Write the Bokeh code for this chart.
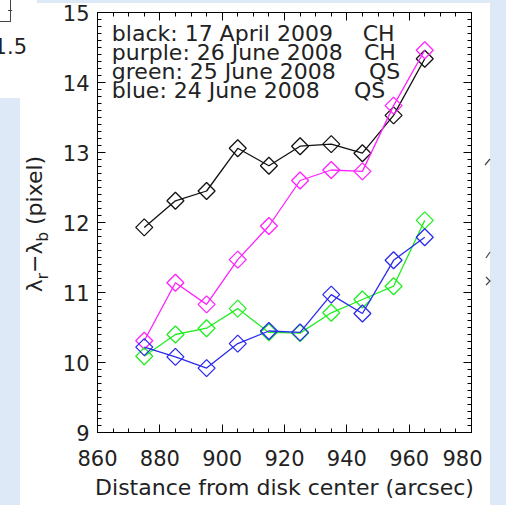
import numpy as np
from bokeh.plotting import figure
from bokeh.models import (Range1d, LinearAxis, SingleIntervalTicker, Label,
                          CustomJSTickFormatter, Div)
from bokeh.layouts import row, column
from bokeh.embed import file_html
from bokeh.resources import INLINE

# ---- data ----
distance = [875, 885, 895, 905, 915, 925, 935, 945, 955, 965]
black_ch_2009 = [11.93, 12.31, 12.45, 13.06, 12.81, 13.09, 13.12, 12.99, 13.53, 14.34]
purple_ch_2008 = [10.31, 11.14, 10.83, 11.47, 11.95, 12.60, 12.75, 12.73, 13.67, 14.46]
green_qs_2008 = [10.09, 10.40, 10.49, 10.77, 10.43, 10.42, 10.71, 10.90, 11.09, 12.03]
blue_qs_2008 = [10.22, 10.08, 9.92, 10.27, 10.45, 10.43, 10.97, 10.70, 11.46, 11.79]

series_colors = ["#111111", "#ff22ff", "#22ee22", "#2a2aee"]
legend_left = ["black: 17 April 2009", "purple: 26 June 2008",
               "green: 25 June 2008", "blue: 24 June 2008"]
legend_right = ["CH", "CH", "QS", "QS"]
x_title = "Distance from disk center (arcsec)"

FONT = "DejaVu Sans"
TXT = "#222222"
BG_BLUE = "#dde9f6"

p = figure(width=426, height=502, output_backend="svg", toolbar_location=None,
           x_range=Range1d(860, 980), y_range=Range1d(9, 15),
           min_border_left=41, min_border_right=11, min_border_top=9,
           min_border_bottom=73)
p.background_fill_color = "white"
p.border_fill_color = "white"
p.outline_line_color = "black"
p.outline_line_width = 1
p.xgrid.visible = False
p.ygrid.visible = False


def style_axis(ax, labels=True):
    ax.axis_line_color = "black"
    ax.major_tick_line_color = "black"
    ax.minor_tick_line_color = "black"
    ax.major_tick_in = 8
    ax.major_tick_out = 0
    ax.minor_tick_in = 4
    ax.minor_tick_out = 0
    if labels:
        ax.major_label_text_font = FONT
        ax.major_label_text_font_size = "21px"
        ax.major_label_text_color = TXT
    else:
        ax.formatter = CustomJSTickFormatter(code="return ''")
        ax.major_label_text_font_size = "1px"
        ax.major_label_standoff = 0


p.xaxis.ticker = SingleIntervalTicker(interval=20, num_minor_ticks=4)
p.yaxis.ticker = SingleIntervalTicker(interval=1, num_minor_ticks=10)
style_axis(p.xaxis[0])
style_axis(p.yaxis[0])
p.xaxis.major_label_standoff = 17
p.yaxis.major_label_standoff = 8
p.xaxis.axis_label = x_title
p.xaxis.axis_label_text_font = FONT
p.xaxis.axis_label_text_font_size = "22px"
p.xaxis.axis_label_text_font_style = "normal"
p.xaxis.axis_label_text_color = TXT
p.xaxis.axis_label_standoff = 6

top_ax = LinearAxis(ticker=SingleIntervalTicker(interval=20, num_minor_ticks=4))
right_ax = LinearAxis(ticker=SingleIntervalTicker(interval=1, num_minor_ticks=10))
style_axis(top_ax, labels=False)
style_axis(right_ax, labels=False)
p.add_layout(top_ax, "above")
p.add_layout(right_ax, "right")

# ---- series ----
for ys, c in zip([black_ch_2009, purple_ch_2008, green_qs_2008, blue_qs_2008], series_colors):
    p.line(distance, ys, line_color=c, line_width=1.3)
    p.scatter(distance, ys, marker="square", size=12, angle=np.pi / 4,
              fill_color=None, line_color=c, line_width=1.3)

# ---- legend text inside the plot ----
leg_y = [14.70, 14.43, 14.157, 13.886]
leg_right_x = [945.1, 945.5, 947.1, 942.3]
for t, y in zip(legend_left, leg_y):
    p.add_layout(Label(x=864.6, y=y, text=t, text_font=FONT, text_font_size="22px",
                       text_color=TXT, text_baseline="alphabetic"))
for t, x, y in zip(legend_right, leg_right_x, leg_y):
    p.add_layout(Label(x=x, y=y, text=t, text_font=FONT, text_font_size="22px",
                       text_color=TXT, text_baseline="alphabetic"))

# ---- left margin: y title (with subscripts) and page decoration ----
left_html = f"""
<div style="position:relative;width:56px;height:505px;overflow:hidden;background:white;
            font-family:'{FONT}';color:{TXT};">
  <div style="position:absolute;left:0;top:98px;width:20px;height:407px;background:{BG_BLUE};"></div>
  <div style="position:absolute;left:37px;top:0;width:19px;height:3px;background:{BG_BLUE};"></div>
  <div style="position:absolute;left:-1px;top:-1px;width:12px;height:23px;
              border-right:1px solid #444;border-bottom:1px solid #444;"></div>
  <div style="position:absolute;left:8px;top:10px;width:4px;height:1px;background:#444;"></div>
  <div style="position:absolute;right:29px;top:37px;font-size:21px;line-height:21px;">1.5</div>
  <div style="position:absolute;left:39px;top:224px;transform:translate(-50%,-50%) rotate(-90deg);
              white-space:nowrap;font-size:22px;line-height:24px;">λ<sub style="font-size:15px">r</sub>−λ<sub style="font-size:15px">b</sub> (pixel)</div>
</div>
"""
right_html = f"""
<div style="position:relative;width:24px;height:505px;overflow:hidden;background:white;">
  <div style="position:absolute;left:8px;top:0;width:16px;height:505px;background:{BG_BLUE};"></div>
  <div style="position:absolute;left:0;top:0;width:8px;height:3px;background:{BG_BLUE};"></div>
  <svg width="24" height="505" style="position:absolute;left:0;top:0;">
    <g stroke="#444" stroke-width="1.2" fill="none">
      <line x1="3" y1="165" x2="8" y2="159"/>
      <line x1="4" y1="258" x2="8" y2="252"/>
      <polyline points="4,277 8,281 4,285"/>
    </g>
  </svg>
</div>
"""
left_div = Div(text=left_html, width=56, height=505, margin=(0, 0, 0, 0))
top_strip = Div(text="", width=426, height=3, margin=(0, 0, 0, 0),
                styles={"background-color": BG_BLUE})
right_div = Div(text=right_html, width=24, height=505, margin=(0, 0, 0, 0))

layout = row(left_div, column(top_strip, p, spacing=0), right_div, spacing=0)

open("out.html", "w").write(file_html(layout, INLINE))
